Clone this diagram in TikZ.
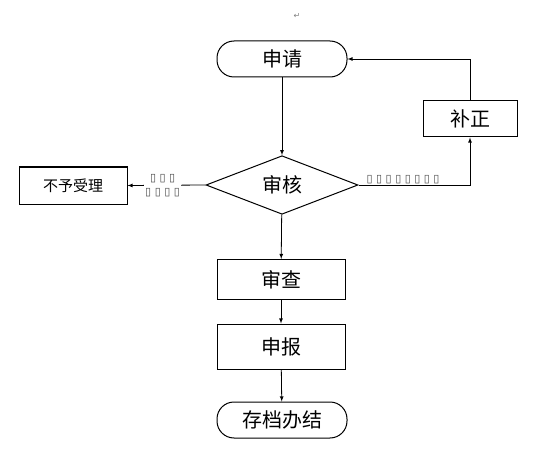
\documentclass[tikz,border=0pt]{standalone}
\usepackage{fontspec}
\newfontfamily\cjk{Noto Sans CJK SC}
\newfontfamily\symb{DejaVu Sans}
\usetikzlibrary{shapes.geometric, arrows}

\tikzset{
  term/.style={draw, rectangle, rounded corners=17pt, minimum width=130pt, minimum height=36pt, line width=1pt, font=\cjk\fontsize{20}{20}\selectfont},
  stepbox/.style={draw, rectangle, minimum width=128pt, line width=1pt, font=\cjk\fontsize{20}{20}\selectfont},
  decide/.style={draw, diamond, minimum width=152pt, minimum height=56pt, inner sep=0pt, line width=1pt, font=\cjk\fontsize{20}{20}\selectfont},
  tofu/.style={font=\symb\fontsize{11}{14}\selectfont, text=black!70, inner sep=1pt},
}

\begin{document}
\begin{tikzpicture}[
  x=1pt, y=-1pt,
  ->,
  >=latex,
  line width=0.8pt,
]
\useasboundingbox (0,0) rectangle (539,460);

\node[font=\symb\fontsize{8}{8}\selectfont, text=gray] (mark) at (297,16) {↵};

\node[term] (apply) at (282,59) {申请};
\node[decide] (check) at (282,185) {审核};
\node[stepbox, minimum width=94pt, minimum height=36pt] (fix) at (470,119) {补正};
\node[stepbox, minimum width=108pt, minimum height=37pt, font=\cjk\fontsize{15}{15}\selectfont] (reject) at (73,185.5) {不予受理};
\node[stepbox, minimum height=40pt] (review) at (281,279.5) {审查};
\node[stepbox, minimum height=45pt] (report) at (281,346.5) {申报};
\node[term] (done) at (282,420) {存档办结};

\draw (apply) -- (check);
\draw (check.east) -| node[tofu, pos=0.2, above=0pt] {▯ ▯ ▯ ▯ ▯ ▯ ▯ ▯} (fix.south);
\draw (fix.north) |- (apply.east);
\draw (check.west) -- node[tofu, fill=white, align=center, pos=0.55] {▯ ▯ ▯\\▯ ▯ ▯ ▯} (reject.east);
\draw (check) -- (review);
\draw (review) -- (report);
\draw (report) -- (done);

\end{tikzpicture}
\end{document}
